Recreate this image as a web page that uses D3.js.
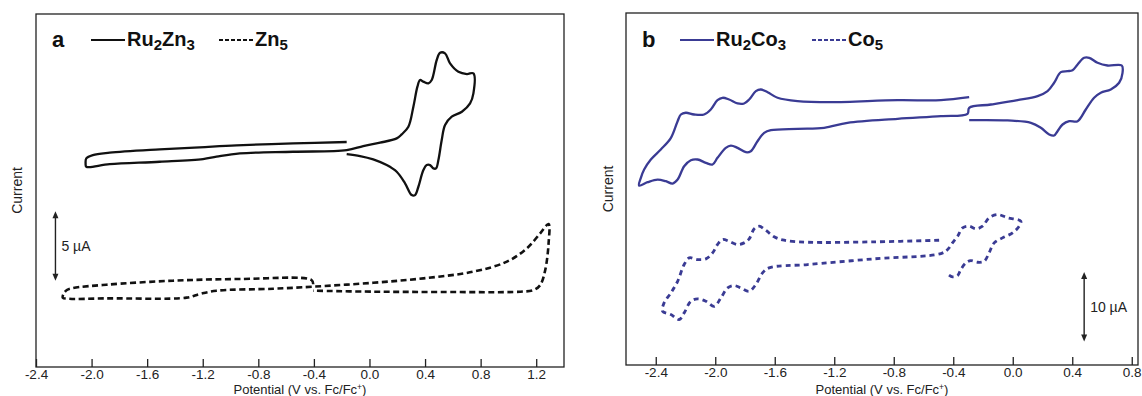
<!DOCTYPE html>
<html>
<head>
<meta charset="utf-8">
<script src="https://cdn.jsdelivr.net/npm/d3@7"></script>
<style>
  body { margin: 0; background: #fff; }
  svg { display: block; font-family: Arial, "Liberation Sans", sans-serif; }
</style>
</head>
<body>
<svg id="chart" width="1142" height="396"></svg>
<script>
// cyclic voltammograms, points are [E (V vs Fc/Fc+), I (uA, offset for stacking)]
const ru2zn3 = [
    [-0.164, 16.19], [-0.549, 16.09], [-0.957, 15.95], [-1.222, 15.81], [-1.510, 15.66],
    [-1.870, 15.42], [-1.991, 15.25], [-2.038, 15.01], [-2.043, 14.65], [-2.038, 14.41],
    [-1.870, 14.60], [-1.510, 14.77], [-1.198, 14.96], [-1.101, 15.13], [-0.933, 15.37],
    [-0.549, 15.49], [-0.164, 15.60],
    [-0.045, 15.90], [0.076, 16.14], [0.196, 16.45], [0.232, 16.74], [0.280, 17.29],
    [0.316, 18.73], [0.345, 20.17], [0.364, 20.65], [0.388, 20.53], [0.424, 20.41],
    [0.448, 20.65], [0.484, 22.09], [0.508, 22.61], [0.544, 22.57], [0.580, 21.85],
    [0.640, 21.24], [0.701, 21.08], [0.748, 21.13],
    [0.748, 19.69], [0.724, 18.97], [0.665, 18.37], [0.592, 18.01], [0.544, 17.41],
    [0.520, 16.33], [0.496, 14.89], [0.479, 14.29], [0.460, 14.29], [0.436, 14.53],
    [0.412, 14.53], [0.388, 14.17], [0.352, 12.97], [0.328, 12.37], [0.304, 12.37],
    [0.256, 13.22], [0.196, 14.05], [0.124, 14.53], [0.027, 14.94], [-0.068, 15.18],
    [-0.164, 15.32]
];
const zn5 = [
    [-0.405, 5.95], [-0.417, 6.26], [-0.933, 6.33], [-1.414, 6.21], [-1.894, 5.92],
    [-2.135, 5.68], [-2.178, 5.54], [-2.202, 5.25], [-2.207, 4.99],
    [-2.159, 4.91], [-1.894, 4.94], [-1.317, 4.99], [-1.222, 5.25], [-1.101, 5.49],
    [-0.693, 5.63], [-0.405, 5.78],
    [0.027, 6.06], [0.388, 6.38], [0.748, 6.86], [0.989, 7.58], [1.133, 8.54],
    [1.229, 9.62], [1.289, 10.29],
    [1.289, 8.90], [1.265, 6.98], [1.229, 5.90], [1.181, 5.54], [1.085, 5.42],
    [0.508, 5.40], [0.027, 5.42], [-0.405, 5.49]
];
const ru2co3 = [
    [-0.293, 38.57], [-0.483, 38.14], [-0.774, 38.14], [-1.223, 37.85], [-1.447, 38.00],
    [-1.581, 38.49], [-1.648, 39.29], [-1.693, 39.68], [-1.727, 39.44], [-1.772, 38.24],
    [-1.806, 37.67], [-1.850, 37.67], [-1.907, 38.24], [-1.951, 38.49], [-1.985, 38.14],
    [-2.030, 36.80], [-2.075, 36.08], [-2.142, 36.08], [-2.198, 36.33], [-2.231, 36.08],
    [-2.253, 35.12], [-2.298, 32.72], [-2.366, 31.04], [-2.433, 29.60], [-2.478, 28.16],
    [-2.500, 26.96], [-2.512, 25.85],
    [-2.455, 26.33], [-2.388, 26.71], [-2.332, 26.47], [-2.287, 26.14], [-2.253, 26.71],
    [-2.209, 28.63], [-2.164, 29.50], [-2.119, 29.60], [-2.063, 29.12], [-2.018, 28.88],
    [-1.985, 29.84], [-1.929, 31.28], [-1.895, 31.61], [-1.850, 31.28], [-1.794, 30.65],
    [-1.761, 30.79], [-1.716, 32.23], [-1.671, 33.44], [-1.626, 33.82], [-1.447, 34.02],
    [-1.268, 34.16], [-1.111, 34.88], [-0.774, 35.46], [-0.483, 35.84], [-0.304, 36.18],
    [-0.293, 37.05], [-0.147, 37.52], [0.032, 38.14], [0.167, 38.72], [0.234, 39.44],
    [0.278, 40.65], [0.323, 42.18], [0.368, 42.32], [0.402, 42.46], [0.436, 43.29],
    [0.480, 44.25], [0.514, 44.25], [0.570, 43.53], [0.637, 43.14], [0.733, 43.14],
    [0.738, 42.09], [0.715, 40.65], [0.659, 39.68], [0.592, 39.21], [0.547, 38.49],
    [0.491, 36.80], [0.436, 35.12], [0.380, 35.12], [0.335, 34.64], [0.301, 33.67],
    [0.278, 33.05], [0.245, 33.20], [0.189, 34.16], [0.122, 34.88], [-0.035, 35.22],
    [-0.293, 35.26]
];
const co5 = [
    [-0.495, 17.97], [-0.932, 17.74], [-1.379, 17.68], [-1.537, 17.97], [-1.604, 18.46],
    [-1.660, 19.41], [-1.705, 19.99], [-1.738, 19.61], [-1.772, 18.17], [-1.806, 17.59],
    [-1.850, 17.35], [-1.907, 17.82], [-1.951, 18.07], [-1.985, 17.35], [-2.018, 16.15],
    [-2.063, 15.29], [-2.119, 15.19], [-2.175, 15.43], [-2.209, 14.47], [-2.253, 12.06],
    [-2.298, 10.39], [-2.344, 8.95], [-2.354, 7.74],
    [-2.298, 7.26], [-2.243, 6.54], [-2.209, 7.51], [-2.164, 9.18], [-2.119, 9.52],
    [-2.063, 9.18], [-2.007, 8.46], [-1.962, 9.67], [-1.917, 11.11], [-1.873, 11.44],
    [-1.828, 11.11], [-1.772, 10.62], [-1.727, 11.59], [-1.682, 13.27], [-1.638, 13.99],
    [-1.379, 14.47], [-0.932, 15.29], [-0.483, 16.05],
    [-0.438, 16.63], [-0.405, 17.59], [-0.371, 18.54], [-0.337, 19.76], [-0.293, 19.99],
    [-0.248, 19.61], [-0.203, 19.99], [-0.159, 21.20], [-0.102, 21.67], [-0.035, 21.20],
    [0.054, 20.71],
    [0.043, 19.99], [-0.001, 19.03], [-0.069, 18.31], [-0.125, 17.59], [-0.159, 16.15],
    [-0.192, 14.94], [-0.237, 14.80], [-0.282, 15.04], [-0.315, 14.71], [-0.349, 13.75],
    [-0.371, 12.88], [-0.405, 12.69], [-0.434, 13.03]
];

// axis ticks
const ticksA = [-2.4, -2.0, -1.6, -1.2, -0.8, -0.4, 0.0, 0.4, 0.8, 1.2];
const ticksB = [-2.4, -2.0, -1.6, -1.2, -0.8, -0.4, 0.0, 0.4, 0.8];

// scale bars: [E, I start, span uA]
const barA = [-2.26, 6.2, 5];
const barB = [0.48, 3.4, 10];

const svg = d3.select("#chart");
const fmt = d => (Math.abs(d) < 1e-9 ? 0 : d).toFixed(1);
const ink = "#222";

const drawPanel = (opt) => {
    const x = d3.scaleLinear().domain(opt.xDomain).range([opt.left, opt.right]);
    const y = d3.scaleLinear().domain(opt.yDomain).range([opt.bottom, opt.top]);
    const g = svg.append("g");

    // frame
    g.append("rect")
        .attr("x", opt.left).attr("y", opt.top)
        .attr("width", opt.right - opt.left).attr("height", opt.bottom - opt.top)
        .attr("fill", "none").attr("stroke", ink).attr("stroke-width", 1.3);

    // bottom axis, ticks point inward
    const ax = g.append("g")
        .attr("transform", `translate(0,${opt.bottom})`)
        .call(d3.axisBottom(x).tickValues(opt.ticks).tickFormat(fmt)
            .tickSizeInner(-8).tickSizeOuter(0).tickPadding(2.7));
    ax.select(".domain").remove();
    ax.selectAll(".tick line").attr("stroke", ink).attr("stroke-width", 1.3);
    ax.selectAll(".tick text")
        .attr("font-size", 13.5).attr("font-family", "Arial, 'Liberation Sans', sans-serif")
        .attr("fill", ink);

    // axis titles
    const tt = g.append("text")
        .attr("x", (opt.left + opt.right) / 2).attr("y", 393.5)
        .attr("text-anchor", "middle").attr("font-size", 13).attr("fill", ink);
    tt.append("tspan").text("Potential (V vs. Fc/Fc");
    tt.append("tspan").attr("font-size", 8.5).attr("dy", -4).text("+");
    tt.append("tspan").attr("dy", 4).text(")");

    g.append("text")
        .attr("transform", `translate(${opt.yLabelX},${(opt.top + opt.bottom) / 2}) rotate(-90)`)
        .attr("text-anchor", "middle").attr("font-size", 14).attr("fill", ink)
        .text("Current");

    // traces
    const line = d3.line()
        .x(d => x(d[0])).y(d => y(d[1]))
        .curve(d3.curveCatmullRom.alpha(0.5));
    opt.series.forEach(s => {
        g.append("path")
            .datum(s.data)
            .attr("d", line)
            .attr("fill", "none")
            .attr("stroke", opt.color)
            .attr("stroke-width", s.width)
            .attr("stroke-linejoin", "round")
            .attr("stroke-dasharray", s.dash || null);
    });

    // scale bar
    const bx = x(opt.bar[0]);
    const y0 = y(opt.bar[1]), y1 = y(opt.bar[1] + opt.bar[2]);
    g.append("line")
        .attr("x1", bx).attr("x2", bx).attr("y1", y0 - 3).attr("y2", y1 + 3)
        .attr("stroke", ink).attr("stroke-width", 1.4);
    [[y1, 1], [y0, -1]].forEach(([yy, dir]) => {
        g.append("path")
            .attr("d", `M${bx},${yy} L${bx - 3},${yy + dir * 7} L${bx + 3},${yy + dir * 7} Z`)
            .attr("fill", ink);
    });
    g.append("text")
        .attr("x", bx + 6).attr("y", (y0 + y1) / 2 + 5)
        .attr("font-size", 14).attr("fill", ink)
        .text(opt.bar[2] + " \u00b5A");

    // panel letter and legend
    g.append("text")
        .attr("x", opt.left + 16).attr("y", 47)
        .attr("font-size", 22).attr("font-weight", "bold").attr("fill", "#111")
        .text(opt.letter);
    opt.legend.forEach(l => {
        g.append("line")
            .attr("x1", l.x).attr("x2", l.x + 34).attr("y1", 40).attr("y2", 40)
            .attr("stroke", opt.color).attr("stroke-width", 2.2)
            .attr("stroke-dasharray", l.dash ? "4,2" : null);
        const t = g.append("text")
            .attr("x", l.x + 36).attr("y", 46)
            .attr("font-size", 20).attr("font-weight", "bold").attr("fill", "#111");
        l.parts.forEach((p, i) => {
            const sub = i % 2 === 1;
            t.append("tspan")
                .attr("font-size", sub ? 15 : 20)
                .attr("dy", sub ? 4 : (i > 0 ? -4 : 0))
                .text(p);
        });
    });
};

drawPanel({
    left: 36, right: 564, top: 14, bottom: 367,
    xDomain: [-2.4, 1.4], yDomain: [0, 25.4],
    ticks: ticksA, yLabelX: 22, color: "#111", letter: "a",
    series: [
        { data: ru2zn3, width: 2.3 },
        { data: zn5, width: 2.6, dash: "6,3.5" }
    ],
    bar: barA,
    legend: [
        { x: 91, parts: ["Ru", "2", "Zn", "3"] },
        { x: 219, dash: true, parts: ["Zn", "5"] }
    ]
});

drawPanel({
    left: 626, right: 1138, top: 13, bottom: 365,
    xDomain: [-2.6, 0.842], yDomain: [0, 50.7],
    ticks: ticksB, yLabelX: 613, color: "#3a3b94", letter: "b",
    series: [
        { data: ru2co3, width: 2.3 },
        { data: co5, width: 2.8, dash: "5,4" }
    ],
    bar: barB,
    legend: [
        { x: 680, parts: ["Ru", "2", "Co", "3"] },
        { x: 812, dash: true, parts: ["Co", "5"] }
    ]
});
</script>
</body>
</html>
